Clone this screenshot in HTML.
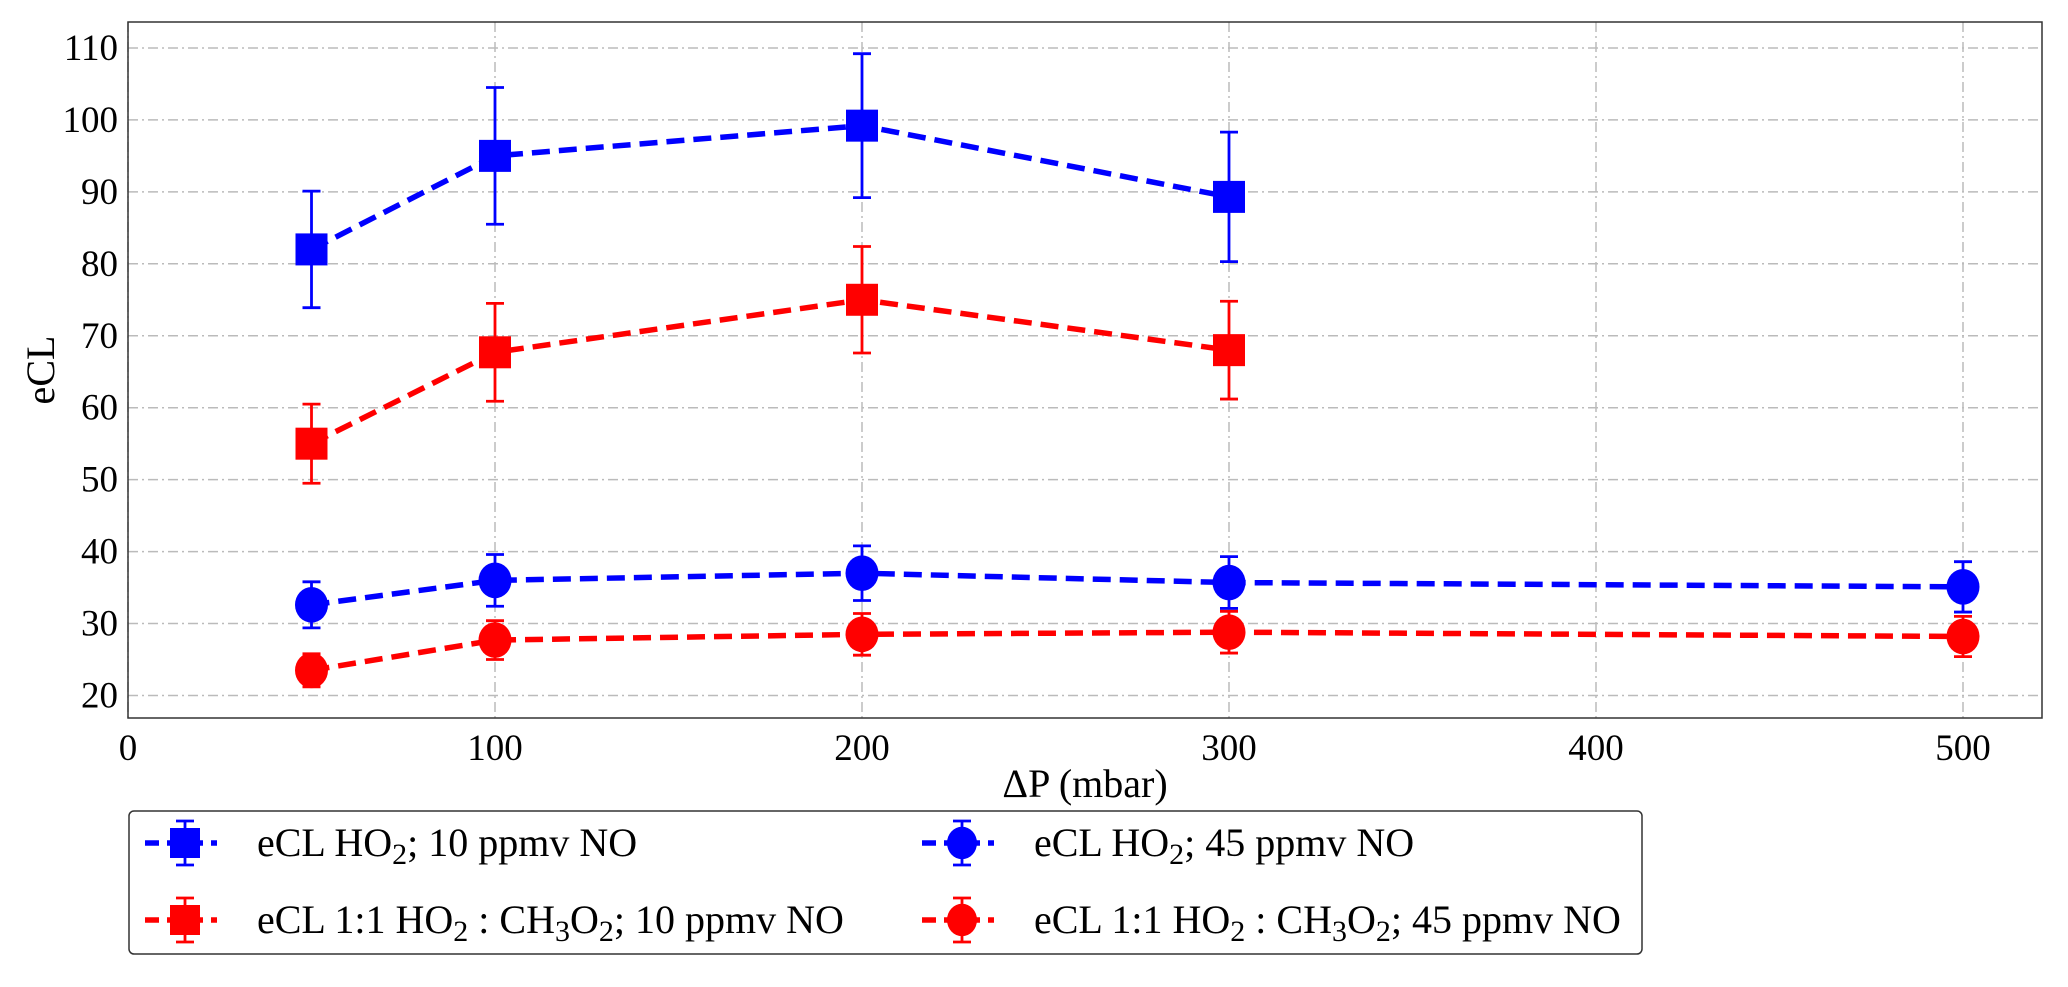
<!DOCTYPE html>
<html><head><meta charset="utf-8"><style>
body{margin:0;background:#fff;}
svg{display:block;font-family:"Liberation Serif",serif;}
</style></head><body>
<svg id="chart" width="2068" height="987">
<g id="grid"></g>
<g id="series"></g>
<rect x="128" y="22" width="1914" height="696" fill="none" stroke="#333" stroke-width="1.5"/>
<g id="ticks"></g>
<text x="1085" y="797" font-size="40" text-anchor="middle">ΔP (mbar)</text>
<text transform="translate(54,370) rotate(-90)" font-size="40" text-anchor="middle">eCL</text>
<g id="legend">
<rect x="129" y="811" width="1513" height="143" rx="5" fill="#fff" stroke="#333" stroke-width="1.5"/>
</g>
</svg>
<script>
const xs50 = [50,100,200,300];
const xs5 = [50,100,200,300,500];
const sqBlue = [82,95,99.2,89.3];
const sqBlueErr = [8.1,9.5,10,9];
const sqRed = [55,67.7,75,68];
const sqRedErr = [5.5,6.8,7.4,6.8];
const ciBlue = [32.6,36,37,35.7,35.1];
const ciBlueErr = [3.2,3.6,3.8,3.6,3.5];
const ciRed = [23.5,27.7,28.5,28.8,28.2];
const ciRedErr = [2.3,2.7,2.9,2.9,2.8];
const xTicks = [0,100,200,300,400,500];
const yTicks = [20,30,40,50,60,70,80,90,100,110];
const legendLabels = ['eCL HO<tspan font-size="30" dy="8">2</tspan><tspan dy="-8">; 10 ppmv NO</tspan>',
 'eCL HO<tspan font-size="30" dy="8">2</tspan><tspan dy="-8">; 45 ppmv NO</tspan>',
 'eCL 1:1 HO<tspan font-size="30" dy="8">2</tspan><tspan dy="-8"> : CH</tspan><tspan font-size="30" dy="8">3</tspan><tspan dy="-8">O</tspan><tspan font-size="30" dy="8">2</tspan><tspan dy="-8">; 10 ppmv NO</tspan>',
 'eCL 1:1 HO<tspan font-size="30" dy="8">2</tspan><tspan dy="-8"> : CH</tspan><tspan font-size="30" dy="8">3</tspan><tspan dy="-8">O</tspan><tspan font-size="30" dy="8">2</tspan><tspan dy="-8">; 45 ppmv NO</tspan>'];

const X = v => 128 + v*3.67;
const Y = v => 695.5 - (v-20)*7.195;
const NS='http://www.w3.org/2000/svg';
function mk(tag, attrs, parent){const e=document.createElementNS(NS,tag);for(const k in attrs)e.setAttribute(k,attrs[k]);parent.appendChild(e);return e;}
const grid=document.getElementById('grid'), ticks=document.getElementById('ticks'), ser=document.getElementById('series'), leg=document.getElementById('legend');
xTicks.forEach(t=>{
  const l=mk('line',{x1:X(t),x2:X(t),y1:22,y2:718,stroke:'#bbb','stroke-width':1.5,'stroke-dasharray':'10,4,2,4'},grid);
  
  
  const tx=mk('text',{x:X(t),y:760,'font-size':37,'text-anchor':'middle'},ticks);tx.textContent=t;
  
  
});
yTicks.forEach(t=>{
  const l=mk('line',{x1:128,x2:2042,y1:Y(t),y2:Y(t),stroke:'#bbb','stroke-width':1.5,'stroke-dasharray':'10,4,2,4'},grid);
  
  
  const tx=mk('text',{x:118,y:Y(t)+12,'font-size':37,'text-anchor':'end'},ticks);tx.textContent=t;
  
  
});
function marker(g,shape,cx,cy,color,s){
  if(shape==='sq') return mk('rect',{x:cx-s/2,y:cy-s/2,width:s,height:s,fill:color},g);
  return mk('ellipse',{cx:cx,cy:cy,rx:s/2,ry:s/2*1.08,fill:color},g);
}
function series(xv,yv,ev,color,shape,name){
  const g=mk('g',{},ser);
  
  
  const pl=mk('polyline',{points:xv.map((x,i)=>X(x)+','+Y(yv[i])).join(' '),fill:'none',stroke:color,'stroke-width':5.5,'stroke-dasharray':'18,9'},g);
  
  
  xv.forEach((x,i)=>{
    const cx=X(x),y1=Y(yv[i]+ev[i]),y2=Y(yv[i]-ev[i]);
    const eb=mk('path',{d:`M${cx},${y1}V${y2}M${cx-9},${y1}H${cx+9}M${cx-9},${y2}H${cx+9}`,stroke:color,'stroke-width':2.8,fill:'none'},g);
    
    
    const m=marker(g,shape,cx,Y(yv[i]),color,shape==='sq'?32:33);
    
    
  });
}
series(xs50,sqBlue,sqBlueErr,'#0000ff','sq','ho2-10ppmv');
series(xs50,sqRed,sqRedErr,'#ff0000','sq','mix-10ppmv');
series(xs5,ciBlue,ciBlueErr,'#0000ff','ci','ho2-45ppmv');
series(xs5,ciRed,ciRedErr,'#ff0000','ci','mix-45ppmv');
const legPos=[[185,843,'#0000ff','sq'],[962,843,'#0000ff','ci'],[185,920,'#ff0000','sq'],[962,920,'#ff0000','ci']];
legPos.forEach((p,i)=>{
  const [cx,cy,c,sh]=p;
  const g=mk('g',{},leg);
  
  
  mk('path',{d:`M${cx-40},${cy}H${cx+32}`,stroke:c,'stroke-width':5.5,'stroke-dasharray':'14,8'},g);
  mk('path',{d:`M${cx},${cy-22}V${cy+22}M${cx-9},${cy-22}H${cx+9}M${cx-9},${cy+22}H${cx+9}`,stroke:c,'stroke-width':2.8},g);
  marker(g,sh,cx,cy,c,30);
  const t=mk('text',{x:cx+72,y:cy+13,'font-size':40},g);
  t.innerHTML=legendLabels[i];
});
</script>
</body></html>
